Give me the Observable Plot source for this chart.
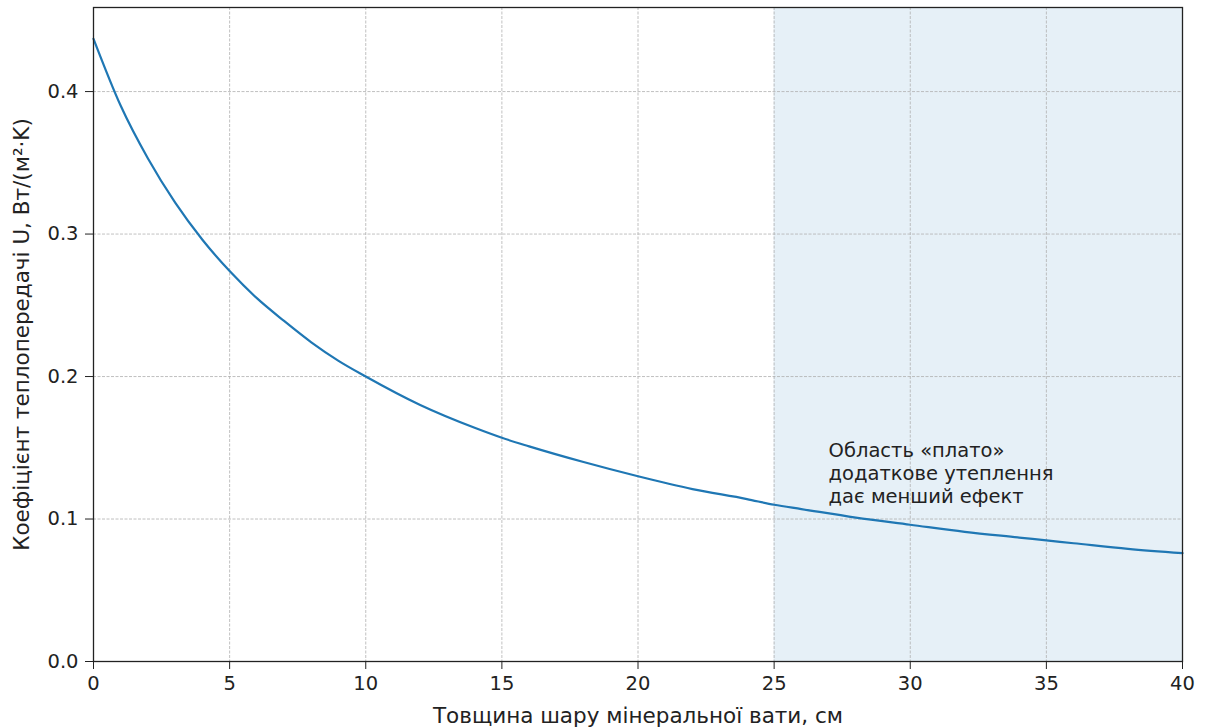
<!DOCTYPE html>
<html>
<head>
<meta charset="utf-8">
<script src="https://cdn.jsdelivr.net/npm/d3@7"></script>
<script src="https://cdn.jsdelivr.net/npm/@observablehq/plot@0.6"></script>
<style>
  html, body { margin: 0; padding: 0; background: #fff; }
  #chart { width: 1205px; height: 728px; }
  #chart svg, #chart svg text { font-family: "DejaVu Sans", sans-serif !important; }
</style>
</head>
<body>
<div id="chart"></div>
<script>
// Thickness of mineral wool layer, cm
const thickness = [0, 1, 2, 3, 4, 5, 6, 7, 8, 9, 10, 12, 14, 15, 16, 18, 20, 22, 24, 25, 26, 28, 30, 32, 34, 35, 36, 38, 40];
// Heat transfer coefficient U, W/(m²·K)
const uValue = [0.437, 0.390, 0.353, 0.322, 0.296, 0.274, 0.255, 0.239, 0.224, 0.211, 0.200, 0.180, 0.164, 0.157, 0.151, 0.140, 0.130, 0.121, 0.114, 0.110, 0.107, 0.101, 0.096, 0.091, 0.087, 0.085, 0.083, 0.079, 0.076];
const xTicks = [0, 5, 10, 15, 20, 25, 30, 35, 40];
const yTicks = [0.0, 0.1, 0.2, 0.3, 0.4];
const plateauStart = [25];
const plateauEnd = [40];
const noteLines = ["Область «плато»", "додаткове утеплення", "дає менший ефект"];
const noteX = [27];
const noteY = [0.1326];
const xLabel = "Товщина шару мінеральної вати, см";
const yLabel = "Коефіцієнт теплопередачі U, Вт/(м²·K)";

const data = thickness.map((d, i) => ({x: d, u: uValue[i]}));
const region = plateauStart.map((s, i) => ({x1: s, x2: plateauEnd[i]}));
const note = noteX.map((x, i) => ({x, y: noteY[i], text: noteLines.join("\n")}));

const chart = Plot.plot({
  width: 1205,
  height: 728,
  marginLeft: 93,
  marginRight: 23,
  marginTop: 7,
  marginBottom: 67,
  style: {fontFamily: "DejaVu Sans", fontSize: "19px", color: "#222", background: "#fff"},
  x: {domain: [0, 40]},
  y: {domain: [0, 0.459]},
  marks: [
    Plot.rectX(region, {x1: "x1", x2: "x2", y1: 0, y2: 0.459, fill: "#1f77b4", fillOpacity: 0.11}),
    Plot.gridX(xTicks, {stroke: "#b0b0b0", strokeOpacity: 1, strokeWidth: 0.8, strokeDasharray: "3,1.5"}),
    Plot.gridY(yTicks, {stroke: "#b0b0b0", strokeOpacity: 1, strokeWidth: 0.8, strokeDasharray: "3,1.5"}),
    Plot.line(data, {x: "x", y: "u", stroke: "#1f77b4", strokeWidth: 2.2, curve: "monotone-x"}),
    Plot.text(note, {x: "x", y: "y", text: "text", textAnchor: "start", lineAnchor: "middle", lineHeight: 1.18, fontSize: 19.5, fill: "#222"}),
    Plot.axisX(xTicks, {tickSize: 8, tickPadding: 7, fontSize: 19.5, label: null, stroke: "#222"}),
    Plot.axisY(yTicks, {tickSize: 8, tickPadding: 7, fontSize: 19.5, tickFormat: d3.format(".1f"), label: null, stroke: "#222"}),
    Plot.text([xLabel], {frameAnchor: "bottom", dy: 55, lineAnchor: "middle", text: d => d, fontSize: 21.5, fill: "#222"}),
    Plot.text([yLabel], {frameAnchor: "left", dx: -71, rotate: -90, textAnchor: "middle", lineAnchor: "middle", text: d => d, fontSize: 21.5, fill: "#222"}),
    Plot.frame({stroke: "#222", strokeWidth: 1.3})
  ]
});
document.getElementById("chart").appendChild(chart);
</script>
</body>
</html>
